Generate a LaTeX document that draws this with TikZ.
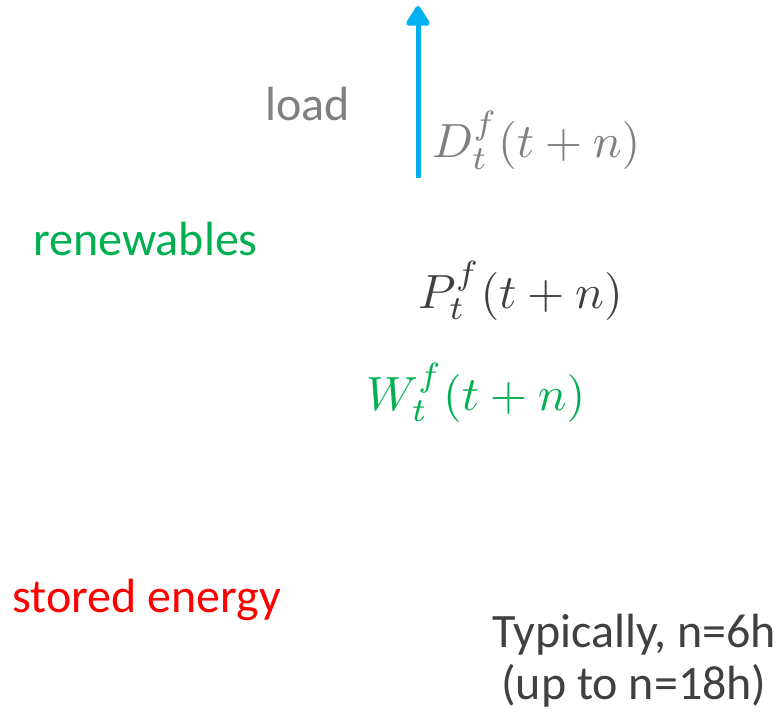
\documentclass[tikz,border=0pt]{standalone}
\usepackage{graphicx}
\usepackage{fontspec}
\setmainfont{Carlito}
\usetikzlibrary{arrows.meta}
\definecolor{arrowblue}{HTML}{00B0F0}
\definecolor{loadgray}{HTML}{808080}
\definecolor{darkgray}{HTML}{404040}
\definecolor{rengreen}{HTML}{00B050}
\definecolor{storered}{HTML}{FF0000}
\newcommand{\bigmath}[1]{\scalebox{4.8}{$#1$}}
\tikzset{
  lbl/.style={inner sep=0pt, anchor=base west, font=\fontsize{48}{56}\selectfont},
  mth/.style={inner sep=0pt, anchor=base west},
  flow/.style={line width=5pt, color=arrowblue, -{Triangle[width=26pt,length=22pt,round]}}
}
\begin{document}
\begin{tikzpicture}[x=1pt,y=-1pt]
\useasboundingbox (0,0) rectangle (779,714);
\coordinate (abot) at (418,178);
\coordinate (atop) at (418,6);
\draw[flow] (abot) -- (atop);
\node[lbl, text=loadgray] (load) at (265,121) {load};
\node[mth, text=loadgray] (dem) at (432,158) {\bigmath{D_t^f(t+n)}};
\node[lbl, text=rengreen] (ren) at (33,255) {renewables};
\node[mth, text=darkgray] (pow) at (418,308) {\bigmath{P_t^f(t+n)}};
\node[mth, text=rengreen] (wind) at (366,410) {\bigmath{W_t^f(t+n)}};
\node[lbl, text=storered] (sto) at (12,612) {stored energy};
\node[lbl, text=darkgray, anchor=base] (typ1) at (634,647) {Typically, n=6h};
\node[lbl, text=darkgray, anchor=base] (typ2) at (634,699) {(up to n=18h)};
\end{tikzpicture}
\end{document}
